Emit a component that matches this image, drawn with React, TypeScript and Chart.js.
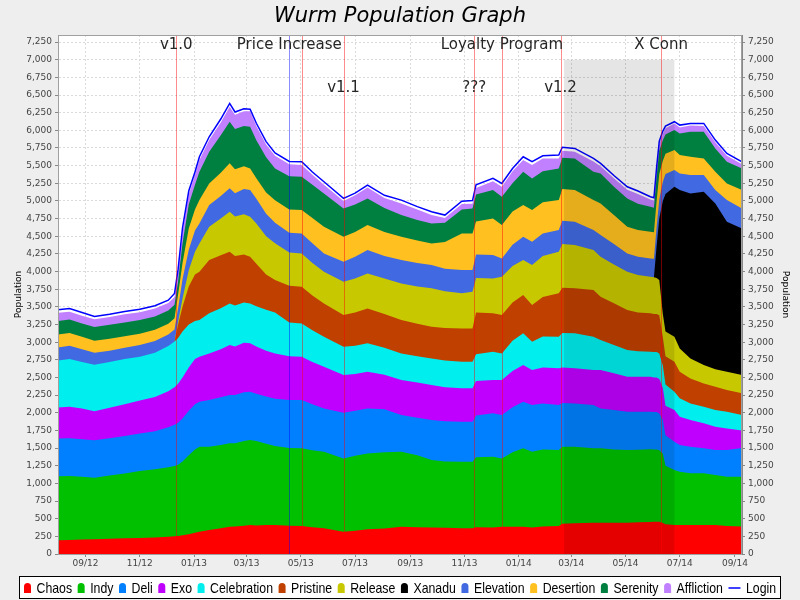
import React, { useEffect, useRef } from "react";
import { Chart, registerables } from "chart.js";

Chart.register(...registerables);

// ---------------- data ----------------
const DATES = [
  "2012-08-01", "2012-08-14", "2012-08-28", "2012-09-11", "2012-09-28", "2012-10-15", "2012-11-01", "2012-11-18", "2012-12-03", "2012-12-10",
  "2012-12-14", "2012-12-19", "2012-12-26", "2013-01-02", "2013-01-07", "2013-01-18", "2013-01-31", "2013-02-10", "2013-02-16", "2013-02-26",
  "2013-03-05", "2013-03-12", "2013-03-23", "2013-04-02", "2013-04-18", "2013-05-02", "2013-05-14", "2013-05-27", "2013-06-18", "2013-07-01",
  "2013-07-15", "2013-08-03", "2013-08-22", "2013-09-09", "2013-09-25", "2013-10-10", "2013-10-29", "2013-11-10", "2013-11-14", "2013-12-03",
  "2013-12-13", "2013-12-25", "2014-01-06", "2014-01-16", "2014-01-28", "2014-02-15", "2014-02-19", "2014-03-05", "2014-03-26", "2014-04-03",
  "2014-04-18", "2014-05-03", "2014-05-15", "2014-05-29", "2014-06-02", "2014-06-05", "2014-06-08", "2014-06-12", "2014-06-15", "2014-06-25",
  "2014-07-01", "2014-07-13", "2014-07-28", "2014-08-10", "2014-08-23", "2014-09-09",
];

const CHAOS = [
  195, 200, 205, 210, 215, 222, 228, 235, 245, 250,
  255, 265, 280, 300, 316, 340, 365, 387, 390, 400,
  410, 405, 410, 410, 400, 396, 380, 363, 316, 330,
  349, 360, 387, 380, 377, 370, 363, 363, 380, 377,
  387, 387, 387, 377, 390, 396, 430, 434, 444, 444,
  444, 444, 450, 453, 455, 455, 455, 440, 420, 410,
  410, 410, 410, 410, 396, 390,
];
const INDY = [
  905, 905, 890, 870, 895, 918, 947, 965, 985, 995,
  1010, 1045, 1120, 1180, 1204, 1180, 1180, 1180, 1180, 1200,
  1204, 1195, 1150, 1120, 1100, 1100, 1090, 1086, 1038, 1060,
  1076, 1080, 1062, 1020, 954, 940, 944, 944, 990, 1001,
  967, 1053, 1109, 1072, 1090, 1077, 1090, 1086, 1052, 1052,
  1036, 1029, 1028, 1029, 1025, 1025, 1015, 980, 830, 779,
  756, 732, 732, 708, 699, 705,
];
const DELI = [
  535, 535, 530, 530, 530, 530, 530, 540, 565, 585,
  595, 610, 630, 640, 637, 660, 675, 684, 680, 690,
  684, 670, 670, 670, 680, 684, 650, 613, 647, 640,
  637, 610, 519, 530, 566, 570, 567, 567, 590, 614,
  614, 640, 661, 661, 650, 637, 620, 613, 614, 566,
  560, 542, 537, 533, 530, 530, 520, 480, 430, 401,
  377, 378, 354, 355, 378, 405,
];
const EXO = [
  440, 445, 435, 410, 430, 450, 470, 485, 510, 530,
  550, 580, 610, 640, 637, 661, 680, 708, 690, 700,
  685, 670, 650, 640, 620, 614, 600, 590, 533, 520,
  520, 490, 496, 500, 496, 480, 472, 472, 490, 472,
  496, 510, 519, 495, 510, 519, 500, 496, 495, 543,
  520, 496, 496, 496, 490, 490, 490, 450, 420, 449,
  401, 377, 354, 330, 306, 250,
];
const CELEBRATION = [
  665, 675, 660, 660, 650, 640, 620, 625, 640, 650,
  650, 650, 610, 540, 519, 567, 580, 590, 580, 570,
  566, 570, 580, 580, 480, 472, 450, 425, 402, 400,
  401, 380, 377, 370, 377, 380, 377, 377, 380, 401,
  377, 430, 449, 401, 440, 448, 490, 496, 472, 425,
  400, 377, 359, 354, 360, 360, 360, 320, 300, 259,
  260, 236, 236, 236, 236, 218,
];
const PRISTINE = [
  0, 0, 0, 0, 0, 0, 0, 0, 0, 0,
  190, 350, 540, 660, 685, 755, 750, 732, 700, 680,
  661, 600, 500, 460, 520, 519, 490, 472, 448, 470,
  495, 480, 472, 460, 449, 460, 472, 472, 590, 543,
  543, 540, 542, 519, 560, 614, 640, 637, 661, 614,
  590, 567, 550, 543, 540, 540, 540, 400, 400, 425,
  378, 354, 330, 330, 307, 307,
];
const RELEASE = [
  0, 0, 0, 0, 0, 0, 0, 0, 0, 0,
  40, 120, 230, 320, 401, 472, 520, 566, 560, 570,
  566, 570, 540, 520, 470, 472, 460, 449, 472, 480,
  496, 500, 519, 530, 543, 520, 496, 519, 490, 495,
  543, 520, 496, 567, 580, 590, 620, 613, 566, 566,
  550, 543, 530, 519, 520, 510, 500, 330, 350, 354,
  330, 283, 260, 246, 260, 259,
];
const XANADU = [
  0, 0, 0, 0, 0, 0, 0, 0, 0, 0,
  0, 0, 0, 0, 0, 0, 0, 0, 0, 0,
  0, 0, 0, 0, 0, 0, 0, 0, 0, 0,
  0, 0, 0, 0, 0, 0, 0, 0, 0, 0,
  0, 0, 0, 0, 0, 0, 0, 0, 0, 0,
  0, 0, 0, 0, 0, 450, 870, 1600, 1950, 2124,
  2242, 2337, 2454, 2350, 2124, 2077,
];
const ELEVATION = [
  185, 190, 180, 170, 160, 160, 165, 165, 165, 170,
  190, 270, 290, 300, 283, 307, 320, 331, 330, 360,
  378, 350, 320, 290, 280, 283, 280, 259, 283, 310,
  330, 320, 331, 330, 330, 320, 330, 307, 330, 331,
  259, 300, 330, 330, 320, 307, 330, 331, 284, 307,
  290, 259, 260, 259, 260, 270, 270, 270, 280, 236,
  236, 259, 236, 189, 306, 283,
];
const DESERTION = [
  185, 180, 175, 170, 170, 165, 160, 160, 150, 160,
  190, 230, 300, 300, 330, 306, 330, 354, 340, 320,
  307, 290, 300, 320, 330, 331, 360, 378, 354, 350,
  354, 340, 330, 320, 307, 380, 519, 519, 470, 519,
  472, 470, 449, 449, 440, 424, 450, 448, 424, 448,
  410, 378, 380, 378, 375, 370, 360, 300, 290, 283,
  260, 260, 236, 260, 236, 260,
];
const SERENITY = [
  190, 190, 190, 195, 195, 195, 195, 190, 190, 190,
  190, 280, 340, 350, 402, 449, 530, 590, 570, 570,
  590, 540, 500, 450, 470, 472, 470, 472, 401, 390,
  378, 340, 307, 290, 283, 270, 340, 354, 380, 401,
  402, 400, 472, 448, 440, 449, 440, 448, 402, 425,
  400, 401, 370, 354, 350, 340, 330, 290, 270, 284,
  306, 354, 378, 330, 307, 307,
];
const AFFLICTION = [
  115, 110, 110, 110, 110, 115, 110, 110, 105, 110,
  120, 160, 140, 140, 165, 165, 180, 212, 200, 210,
  219, 200, 180, 180, 170, 165, 140, 123, 106, 130,
  156, 140, 165, 150, 118, 70, 75, 66, 95, 126,
  140, 170, 165, 191, 180, 141, 100, 95, 146, 100,
  120, 124, 140, 102, 100, 95, 95, 90, 90, 94,
  84, 90, 80, 86, 85, 59,
];
const LOGIN = [
  3460, 3475, 3420, 3365, 3395, 3435, 3465, 3515, 3595, 3690,
  4030, 4620, 5140, 5410, 5626, 5909, 6160, 6381, 6260, 6305,
  6300, 6100, 5840, 5680, 5560, 5555, 5410, 5272, 5036, 5110,
  5225, 5080, 5012, 4920, 4847, 4800, 4995, 5005, 5230, 5319,
  5248, 5460, 5626, 5555, 5640, 5650, 5760, 5744, 5602, 5532,
  5360, 5201, 5140, 5060, 5045, 5475, 5845, 5990, 6060, 6122,
  6074, 6098, 6098, 5862, 5673, 5555,
];

const SERIES_NAMES = [
  "Chaos", "Indy", "Deli", "Exo", "Celebration", "Pristine",
  "Release", "Xanadu", "Elevation", "Desertion", "Serenity", "Affliction",
];
const SERIES_VALUES = [
  CHAOS, INDY, DELI, EXO, CELEBRATION, PRISTINE,
  RELEASE, XANADU, ELEVATION, DESERTION, SERENITY, AFFLICTION,
];
const SERIES_COLORS = [
  "#ff0000", "#00c000", "#0080ff", "#c000ff", "#00eeee", "#c04000",
  "#c8c800", "#000000", "#4169e1", "#ffc020", "#008040", "#c080ff",
];
const LOGIN_NAME = "Login";
const LOGIN_COLOR = "#0000ff";

const X_TICK_LABELS = [
  "09/12", "11/12", "01/13", "03/13", "05/13", "07/13", "09/13",
  "11/13", "01/14", "03/14", "05/14", "07/14", "09/14",
];
const Y_MAX = 7350;
const Y_TICK_STEP = 250;
const Y_TICK_TOP = 7250;

// event markers
const MARKER_DATES = ["2012-12-12", "2013-04-18", "2013-05-02", "2013-06-18", "2013-11-12", "2013-12-13", "2014-02-17", "2014-06-10"];
const MARKER_COLORS = ["red", "blue", "red", "red", "red", "red", "red", "red"];
const LABEL_TEXTS = ["v1.0", "Price Increase", "Loyalty Program", "X Conn", "v1.1", "???", "v1.2"];
const LABEL_DATES = ["2012-12-12", "2013-04-18", "2013-12-13", "2014-06-10", "2013-06-18", "2013-11-12", "2014-02-17"];
const LABEL_VALUES = [7200, 7200, 7200, 7200, 6600, 6600, 6600];
const BOX_DATES = ["2014-02-21", "2014-06-25"];
const BOX_VALUES = [0, 7000];

// ---------------- helpers ----------------
const t = (d: string) => Date.parse(d);

function toPoints(values: number[]) {
  return values.map((v, i) => {
    const next = values[i + 1];
    const y = v === 0 && (next === undefined || next === 0) ? null : v;
    return { x: t(DATES[i]), y };
  });
}

function tickLabelToTime(label: string) {
  const [mm, yy] = label.split("/").map(Number);
  return Date.UTC(2000 + yy, mm - 1, 1);
}

const TICK_FONT = { family: "'DejaVu Sans', sans-serif", size: 9 };
const NARROW = 0.82;

const decorPlugin = {
  id: "decor",
  beforeDraw(chart: any) {
    const { ctx, chartArea: a } = chart;
    ctx.save();
    ctx.fillStyle = "#eeeeee";
    ctx.fillRect(0, 0, chart.width, chart.height);
    ctx.fillStyle = "#ffffff";
    ctx.fillRect(a.left, a.top, a.right - a.left, a.bottom - a.top);
    ctx.restore();
  },
  afterDatasetsDraw(chart: any) {
    const { ctx, chartArea: a, scales } = chart;
    const xs = scales.x;
    const ys = scales.y;
    ctx.save();
    ctx.beginPath();
    ctx.rect(a.left, a.top, a.right - a.left, a.bottom - a.top);
    ctx.clip();

    // shaded interval
    const bx0 = xs.getPixelForValue(t(BOX_DATES[0]));
    const bx1 = xs.getPixelForValue(t(BOX_DATES[1]));
    const by0 = ys.getPixelForValue(BOX_VALUES[1]);
    const by1 = ys.getPixelForValue(BOX_VALUES[0]);
    ctx.fillStyle = "rgba(0,0,0,0.1)";
    ctx.fillRect(bx0, by0, bx1 - bx0, by1 - by0);

    // markers
    ctx.lineWidth = 1;
    MARKER_DATES.forEach((d, i) => {
      const x = Math.round(xs.getPixelForValue(t(d))) + 0.5;
      ctx.strokeStyle = MARKER_COLORS[i] === "blue" ? "rgba(0,0,255,0.45)" : "rgba(255,0,0,0.45)";
      ctx.beginPath();
      ctx.moveTo(x, a.top);
      ctx.lineTo(x, a.bottom);
      ctx.stroke();
    });

    // labels
    ctx.fillStyle = "#262626";
    ctx.font = "15px 'DejaVu Sans', sans-serif";
    ctx.textAlign = "center";
    ctx.textBaseline = "middle";
    LABEL_TEXTS.forEach((txt, i) => {
      ctx.fillText(txt, xs.getPixelForValue(t(LABEL_DATES[i])), ys.getPixelForValue(LABEL_VALUES[i]));
    });
    ctx.restore();

    // outline
    ctx.save();
    ctx.strokeStyle = "#a0a0a0";
    ctx.lineWidth = 1;
    ctx.strokeRect(a.left + 0.5, a.top + 0.5, a.right - a.left - 1, a.bottom - a.top);
    ctx.restore();
  },
  afterDraw(chart: any) {
    const { ctx } = chart;
    ctx.save();
    // title
    ctx.fillStyle = "#000";
    ctx.font = "italic 21px 'DejaVu Sans', sans-serif";
    ctx.textAlign = "center";
    ctx.textBaseline = "middle";
    ctx.fillText("Wurm Population Graph", 400, 17);

    // legend
    ctx.font = "15px 'Liberation Sans', Arial, sans-serif";
    ctx.textAlign = "left";
    const items = SERIES_NAMES.map((n, i) => ({ name: n, color: SERIES_COLORS[i], line: false }));
    items.push({ name: LOGIN_NAME, color: LOGIN_COLOR, line: true });
    const shapeW = 7;
    const lineW = 12;
    const gapA = 5.5;
    const gapB = 5.6;
    const textW = (s: string) => ctx.measureText(s).width * NARROW;
    const widths = items.map((it) => (it.line ? lineW : shapeW) + gapA + textW(it.name));
    const total = widths.reduce((s, w) => s + w, 0) + gapB * (items.length - 1);
    const padX = 4.5;
    const boxW = Math.round(total + padX * 2);
    const boxX = Math.round(399.5 - boxW / 2) + 0.5;
    const boxY = 576.5;
    const boxH = 22;
    ctx.fillStyle = "#ffffff";
    ctx.fillRect(boxX, boxY, boxW, boxH);
    ctx.strokeStyle = "#000";
    ctx.lineWidth = 1;
    ctx.strokeRect(boxX, boxY, boxW, boxH);
    let x = boxX + padX;
    const cy = 588;
    ctx.textBaseline = "middle";
    items.forEach((it) => {
      ctx.fillStyle = it.color;
      if (it.line) {
        ctx.strokeStyle = it.color;
        ctx.lineWidth = 1.5;
        ctx.beginPath();
        ctx.moveTo(x, cy);
        ctx.lineTo(x + lineW, cy);
        ctx.stroke();
        x += lineW;
      } else {
        const h = 10;
        const top = cy - 5;
        const r = shapeW / 2;
        ctx.beginPath();
        ctx.moveTo(x, top + h);
        ctx.lineTo(x, top + r);
        ctx.arc(x + r, top + r, r, Math.PI, 0);
        ctx.lineTo(x + shapeW, top + h);
        ctx.closePath();
        ctx.fill();
        x += shapeW;
      }
      x += gapA;
      ctx.fillStyle = "#000";
      ctx.save();
      ctx.translate(x, cy + 1);
      ctx.scale(NARROW, 1);
      ctx.fillText(it.name, 0, 0);
      ctx.restore();
      x += textW(it.name) + gapB;
    });
    ctx.restore();
  },
};

function yAxis(position: "left" | "right") {
  return {
    type: "linear",
    position,
    stacked: position === "left",
    min: 0,
    max: Y_MAX,
    afterFit: (s: any) => {
      s.width = 58;
    },
    afterBuildTicks: (s: any) => {
      const ticks = [];
      for (let v = 0; v <= Y_TICK_TOP; v += Y_TICK_STEP) ticks.push({ value: v });
      s.ticks = ticks;
    },
    ticks: {
      font: TICK_FONT,
      color: "#444",
      padding: 3,
      callback: (v: any) => Number(v).toLocaleString("en-US"),
    },
    grid: {
      display: true,
      drawOnChartArea: position === "left",
      color: "#dadada",
      lineWidth: 1,
      tickLength: 3,
      tickColor: "#888",
      tickBorderDash: [],
    },
    border: { display: true, color: "#888", dash: [2, 2] },
    title: {
      display: true,
      text: "Population",
      font: TICK_FONT,
      color: "#000",
      padding: { top: position === "left" ? 13 : 9, bottom: 0 },
    },
  };
}

export default function App() {
  const ref = useRef<HTMLCanvasElement>(null);
  useEffect(() => {
    document.body.style.margin = "0";
    const datasets: any[] = SERIES_NAMES.map((name, i) => ({
      label: name,
      data: toPoints(SERIES_VALUES[i]),
      backgroundColor: SERIES_COLORS[i],
      borderColor: SERIES_COLORS[i],
      borderWidth: 0,
      pointRadius: 0,
      fill: "origin",
      tension: 0,
      yAxisID: "y",
    }));
    datasets.push({
      label: LOGIN_NAME,
      data: LOGIN.map((v, i) => ({ x: t(DATES[i]), y: v })),
      borderColor: LOGIN_COLOR,
      backgroundColor: LOGIN_COLOR,
      borderWidth: 1.5,
      pointRadius: 0,
      fill: false,
      tension: 0,
      stack: "login",
      order: -1,
      yAxisID: "y",
    });
    const chart = new Chart(ref.current as HTMLCanvasElement, {
      type: "line",
      data: { datasets },
      options: {
        animation: false,
        responsive: false,
        devicePixelRatio: 1,
        layout: { padding: { top: 35, bottom: 30, left: 0, right: 0 } },
        plugins: { legend: { display: false }, tooltip: { enabled: false } },
        scales: {
          x: {
            type: "linear",
            min: t(DATES[0]),
            max: t(DATES[DATES.length - 1]),
            afterFit: (s: any) => {
              s.height = 16;
            },
            afterBuildTicks: (s: any) => {
              s.ticks = X_TICK_LABELS.map((l) => ({ value: tickLabelToTime(l) }));
            },
            ticks: {
              font: TICK_FONT,
              color: "#444",
              padding: 1,
              autoSkip: false,
              maxRotation: 0,
              callback: (_v: any, i: number) => X_TICK_LABELS[i],
            },
            grid: {
              color: "#dadada",
              tickLength: 3,
              tickColor: "#888",
              tickBorderDash: [],
            },
            border: { display: true, color: "#888", dash: [2, 2] },
          },
          y: yAxis("left"),
          y2: yAxis("right"),
        } as any,
      },
      plugins: [decorPlugin],
    } as any);
    return () => chart.destroy();
  }, []);
  return <canvas ref={ref} width={800} height={600} style={{ display: "block", width: 800, height: 600 }} />;
}
